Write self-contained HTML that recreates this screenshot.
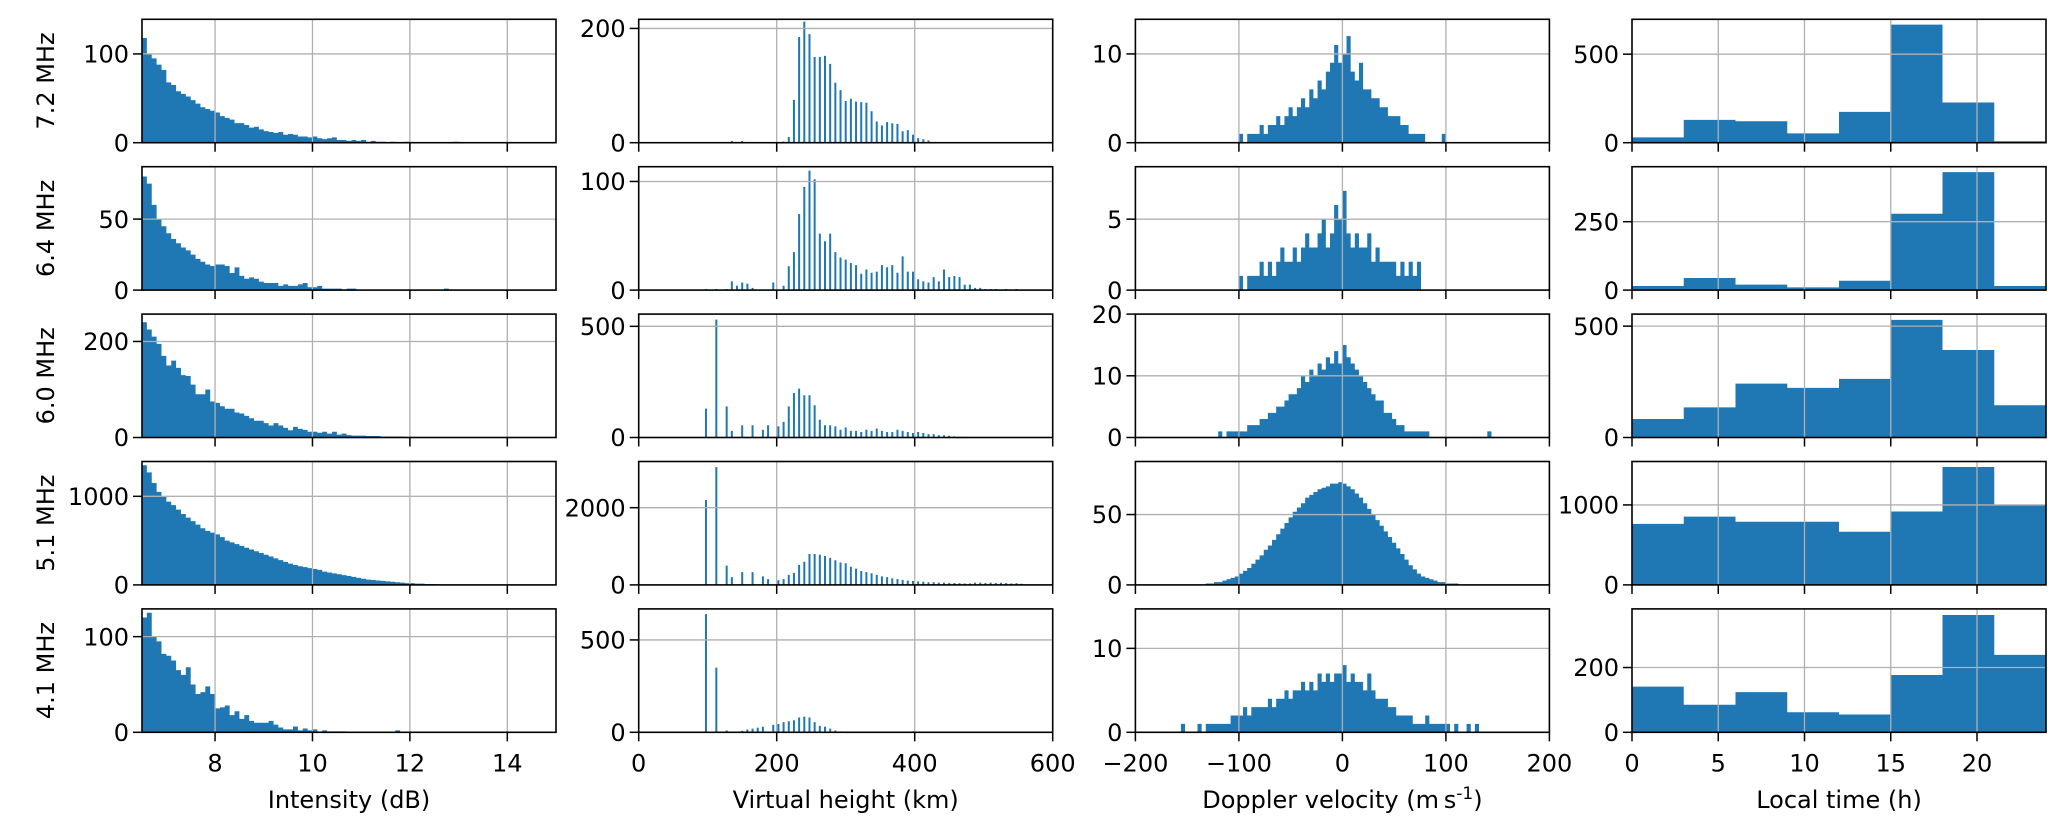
<!DOCTYPE html>
<html><head><meta charset="utf-8"><style>
html,body{margin:0;padding:0;background:#fff;}
svg{display:block;font-family:"DejaVu Sans","Liberation Sans",sans-serif;}
</style></head><body>
<svg id="fig" width="2067" height="833" viewBox="0 0 2067 833" xmlns="http://www.w3.org/2000/svg"></svg>
<script>
const freqLabels=["7.2 MHz","6.4 MHz","6.0 MHz","5.1 MHz","4.1 MHz"];
const colTitles=["Intensity (dB)","Virtual height (km)","Doppler velocity","Local time (h)"];
// intensity histograms (bin 0.1 dB from 6.5 dB)
const intensityStart=6.5, intensityBin=0.1;
const intensity72=[118,100,95,88,82,68,65,58,55,52,48,44,40,38,36,34,30,28,26,22,22,20,17,18,15,13,12,11,12,9,10,9,7,7,6,7,5,4,5,6,3,3,2,3,2,3,1,2,1,1,0,1,0,0,1,0,0,0,0,0,0,0,0,0,1];
const intensity64=[80,75,60,50,45,40,36,33,30,28,25,22,20,18,17,18,18,17,12,16,10,8,9,8,6,5,5,5,3,4,3,3,4,5,2,2,3,1,1,1,1,0,1,1,0,0,0,0,0,0,0,0,0,0,0,0,0,0,0,0,0,0,1];
const intensity60=[240,225,210,195,170,150,160,145,130,128,110,90,90,100,75,72,65,60,60,52,50,45,40,35,35,30,25,30,25,20,15,22,18,16,12,12,10,12,8,12,6,8,5,4,4,4,3,3,3,2,2,2,2,2,1,1,1,1,0,1,0,1,0,1,0,0,0,0,0,0,0,0,0,0,0,0,0,1];
const intensity51=[1350,1270,1150,1050,1000,940,900,850,800,760,720,680,640,610,590,570,540,500,480,460,440,420,400,380,360,340,320,300,280,260,240,225,210,200,190,180,170,150,140,130,120,110,100,90,80,70,60,55,50,45,40,35,30,25,20,20,15,15,10,10,8,5,5,3,3];
const intensity41=[120,125,100,95,82,80,75,65,60,68,50,40,42,48,40,25,26,28,18,22,14,18,12,10,10,10,12,8,5,3,3,6,2,4,2,3,1,2,1,1,1,1,0,0,0,0,0,0,0,0,0,0,2];
// virtual height histograms (7.5 km grid)
const vhStep=7.5;
const vhStartKm=[135,97.5,97.5,97.5,97.5];
const vh72=[3,0,3,0,0,0,0,0,0,0,2,10,75,185,212,190,150,150,152,138,105,92,73,77,72,71,70,55,37,30,36,34,33,20,22,14,8,6,4];
const vh64=[1,0,1,0,1,8,4,7,6,2,0,0,0,7,0,4,22,35,70,95,110,102,52,45,52,35,30,28,25,23,15,19,16,17,23,21,23,16,31,17,17,10,8,7,12,8,19,12,13,12,5,5,2,2,1,1,1,0,1,0,1];
const vh60=[130,0,530,0,140,30,0,55,0,55,0,35,55,0,50,70,140,200,220,190,190,145,80,55,55,50,35,45,30,30,25,35,30,40,30,25,25,35,30,25,20,25,20,15,15,10,10,8,5,3,3,2];
const vh51=[2200,0,3050,0,500,200,0,330,0,330,0,220,150,0,120,150,260,310,520,600,800,800,780,750,700,640,580,560,470,420,360,330,300,260,220,200,170,150,130,110,100,90,80,70,70,60,60,50,50,45,40,40,60,60,50,60,50,55,50,40,45,30];
const vh41=[640,0,350,0,10,0,0,8,15,20,25,30,0,40,45,55,60,65,80,85,80,55,35,30,20,10,5,3,0,0,0,0,0,0,0,0,0,0,0,0,5];
// doppler histograms (bin 4 m/s from -164)
const dopStart=-164, dopBin=4;
const dop72=[0,0,0,0,0,0,0,0,0,0,0,0,0,0,0,0,1,0,1,1,1,2,1,2,2,3,2,3,4,3,4,5,4,6,5,7,6,8,9,11,9,10,12,8,7,9,6,6,5,5,4,4,3,3,3,2,2,1,1,1,1,0,0,0,0,1];
const dop64=[0,0,0,0,0,0,0,0,0,0,0,0,0,0,0,0,1,0,1,1,1,2,1,2,1,2,3,2,2,3,2,3,4,3,3,4,5,3,4,6,5,7,4,3,4,3,3,4,2,3,2,2,2,2,1,2,1,2,1,2];
const dop60=[0,0,0,0,0,0,0,0,0,0,0,1,0,1,1,1,1,1,2,2,2,3,3,4,4,5,5,6,7,7,8,10,9,11,10,12,11,13,12,14,12,15,13,12,11,10,9,8,7,6,6,4,4,3,2,2,1,1,1,1,1,1,0,0,0,0,0,0,0,0,0,0,0,0,0,0,1];
const dop51=[0,0,0,0,0,0,0,0,1,1,2,2,3,4,5,6,8,10,12,15,18,21,25,28,32,36,40,44,48,52,55,58,62,64,66,68,69,70,72,72,73,72,70,68,65,62,58,54,50,46,42,38,34,30,26,22,18,14,11,8,6,5,4,3,2,2,1,1,1];
const dop41=[0,0,1,0,0,0,1,0,1,1,1,1,1,1,2,2,2,3,2,3,3,3,3,4,3,4,4,5,4,5,5,6,5,6,5,7,6,7,6,7,7,8,6,7,6,6,5,7,5,4,4,4,3,3,2,2,2,2,1,1,1,2,1,1,1,1,1,0,1,0,0,1,0,1];
// local time histograms (3 h bins)
const ltBin=3;
const lt72=[30,129,121,53,174,667,227,8];
const lt64=[15,44,20,10,34,279,431,15];
const lt60=[83,135,242,223,263,528,393,145];
const lt51=[763,853,789,789,664,918,1474,1000];
const lt41=[141,85,124,62,55,177,362,239];
// axis limits and ticks
const yLimits=[[139,216,13.9,697],[86.9,113.6,8.7,451],[257,555,20,554],[1393,3196,87.7,1543],[129,668,14.7,381]];
const yTicks=[[[0,100],[0,200],[0,10],[0,500]],[[0,50],[0,100],[0,5],[0,250]],[[0,200],[0,500],[0,10,20],[0,500]],[[0,1000],[0,2000],[0,50],[0,1000]],[[0,100],[0,500],[0,10],[0,200]]];
const xLimits=[[6.5,15],[0,600],[-200,200],[0,24]];
const xTicks=[[8,10,12,14],[0,200,400,600],[-200,-100,0,100,200],[0,5,10,15,20]];

const intensityData=[intensity72,intensity64,intensity60,intensity51,intensity41];
const vhData=[vh72,vh64,vh60,vh51,vh41];
const dopData=[dop72,dop64,dop60,dop51,dop41];
const ltData=[lt72,lt64,lt60,lt51,lt41];

const NS="http://www.w3.org/2000/svg";
const svg=document.getElementById('fig');
const colLeft=[142,638.7,1135.4,1632], colW=414;
const rowTop=[19.3,166.7,314.1,461.5,608.9], rowH=123.4;
const BLUE="#1f77b4";
function mk(tag,attrs,parent){const e=document.createElementNS(NS,tag);for(const k in attrs)e.setAttribute(k,attrs[k]);(parent||svg).appendChild(e);return e;}
function fmt(v){return (v<0?"\u2212":"")+Math.abs(v);}

for(let r=0;r<5;r++){
  for(let c=0;c<4;c++){
    const L=colLeft[c],T=rowTop[r],B=T+rowH;
    const [x0,x1]=xLimits[c]; const ymax=yLimits[r][c];
    const sx=v=>L+(v-x0)/(x1-x0)*colW;
    const sy=v=>B-v/ymax*rowH;
    const g=mk('g',{});
    
    
    const clip=mk('clipPath',{id:'cp'+r+c},g);
    mk('rect',{x:L,y:T,width:colW,height:rowH},clip);
    const bars=mk('g',{'clip-path':'url(#cp'+r+c+')'},g);
    
    
    let path="";
    if(c===0){
      intensityData[r].forEach((v,i)=>{if(v<=0)return;const a=sx(intensityStart+i*intensityBin),b=sx(intensityStart+(i+1)*intensityBin);path+=`M${a},${B}V${sy(v)}H${b}V${B}Z`;});
    }else if(c===1){
      vhData[r].forEach((v,i)=>{if(v<=0)return;const x=sx(vhStartKm[r]+i*vhStep);path+=`M${x-1},${B}V${sy(v)}H${x+1}V${B}Z`;});
    }else if(c===2){
      dopData[r].forEach((v,i)=>{if(v<=0)return;const a=sx(dopStart+i*dopBin),b=sx(dopStart+(i+1)*dopBin);path+=`M${a},${B}V${sy(v)}H${b}V${B}Z`;});
    }else{
      ltData[r].forEach((v,i)=>{const a=sx(i*ltBin),b=sx((i+1)*ltBin);path+=`M${a},${B}V${sy(v)}H${b}V${B}Z`;});
    }
    const p=mk('path',{d:path,fill:BLUE},bars);
    
    
    xTicks[c].forEach(t=>{const x=sx(t);if(x>L+1&&x<L+colW-1){const l=mk('line',{x1:x,x2:x,y1:T,y2:B,stroke:'#b0b0b0','stroke-width':1.3},g);}});
    yTicks[r][c].forEach(t=>{const y=sy(t);if(y<B-1&&y>T+1){const l=mk('line',{x1:L,x2:L+colW,y1:y,y2:y,stroke:'#b0b0b0','stroke-width':1.3},g);}});
    const fr=mk('rect',{x:L,y:T,width:colW,height:rowH,fill:'none',stroke:'#000','stroke-width':1.6},g);
    
    
    xTicks[c].forEach(t=>{const x=sx(t);mk('line',{x1:x,x2:x,y1:B,y2:B+9,stroke:'#000','stroke-width':1.5},g);
      if(r===4){const tx=mk('text',{x:x,y:B+39,'font-size':24,'text-anchor':'middle',fill:'#000'},g);tx.textContent=fmt(t);
        
        }});
    yTicks[r][c].forEach(t=>{const y=sy(t);mk('line',{x1:L-9,x2:L,y1:y,y2:y,stroke:'#000','stroke-width':1.5},g);
      const ty=mk('text',{x:L-13,y:y+8.7,'font-size':24,'text-anchor':'end',fill:'#000'},g);ty.textContent=fmt(t);
      
      });
  }
  const yl=mk('text',{x:0,y:0,'font-size':24,'text-anchor':'middle',transform:`translate(54,${rowTop[r]+rowH/2}) rotate(-90)`});
  yl.textContent=freqLabels[r];
  
  
}
for(let c=0;c<4;c++){
  const t=mk('text',{x:colLeft[c]+colW/2,y:808,'font-size':24,'text-anchor':'middle'});
  
  
  if(c===2){t.textContent="Doppler velocity (m\u2009s";const s=mk('tspan',{dy:-9,'font-size':17},t);s.textContent="-1";const e=mk('tspan',{dy:9},t);e.textContent=")";}
  else t.textContent=colTitles[c];
}
</script>
</body></html>
